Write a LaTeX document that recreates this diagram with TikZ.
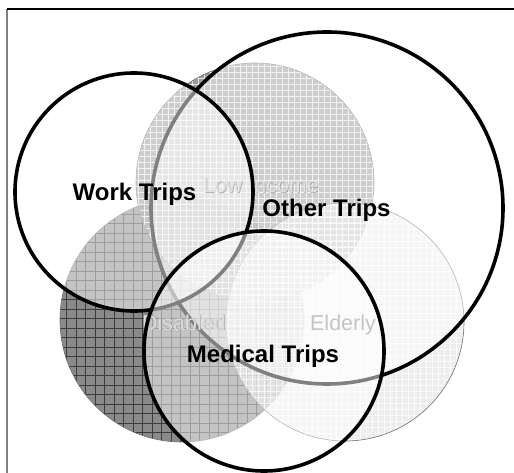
\documentclass[tikz,border=0pt]{standalone}
\usepackage{fontspec}
\setmainfont{Liberation Sans}
\definecolor{lowfill}{HTML}{8A8A8A}
\definecolor{disfill}{HTML}{8A8A8A}
\definecolor{disline}{HTML}{3C3C3C}
\definecolor{eldfill}{HTML}{E4E4E4}
\definecolor{edgegray}{HTML}{6E6E6E}
\begin{document}
\begin{tikzpicture}[x=1pt,y=-1pt,
  tripline/.style={draw=black, line width=3.6pt},
  tripfill/.style={fill=white, fill opacity=0.5},
  setedge/.style={draw=edgegray, line width=0.6pt},
  triplabel/.style={font=\fontsize{24}{28}\selectfont\bfseries, text=black, inner sep=0pt, anchor=base},
  setlabel/.style={font=\fontsize{21.5}{25}\selectfont, inner sep=0pt, anchor=base},
  framegray/.style={draw=gray, line width=1.6pt},
  frameblack/.style={draw=black, line width=1.2pt}
]
\useasboundingbox (0,0) rectangle (514,473);
\fill[white] (0,0) rectangle (514,473);

% centres
\coordinate (dis) at (182,320);
\coordinate (low) at (255,182);
\coordinate (eld) at (345,322);
\coordinate (oth) at (327,208);
\coordinate (wrk) at (134,192);
\coordinate (med) at (264,351);

% Disabled
\begin{scope}
  \clip (dis) circle (122);
  \fill[disfill] (dis) circle (122);
  \foreach \i in {0,...,29} {
    \draw[disline, line width=0.7pt] (57+\i*9.5,190) -- ++(0,270);
    \draw[disline, line width=0.7pt] (50,195+\i*9.5) -- ++(270,0);
  }
\end{scope}
\draw[setedge] (dis) circle (122);

% Low Income
\begin{scope}
  \clip (low) circle (119);
  \fill[lowfill, opacity=0.85] (low) circle (119);
  \foreach \i in {0,...,42} {
    \draw[white, line width=0.8pt, opacity=0.75] (132+\i*6,55) -- ++(0,260);
    \draw[white, line width=0.8pt, opacity=0.75] (125,60+\i*6) -- ++(260,0);
  }
\end{scope}
\draw[setedge] (low) circle (119);

% Elderly
\begin{scope}
  \clip (eld) circle (119);
  \fill[eldfill, opacity=0.65] (eld) circle (119);
  \foreach \i in {0,...,42} {
    \draw[white, line width=0.6pt, opacity=0.7] (222+\i*6,195) -- ++(0,260);
    \draw[white, line width=0.6pt, opacity=0.7] (220,199+\i*6) -- ++(260,0);
  }
\end{scope}
\draw[setedge] (eld) circle (119);

% trip fills
\fill[tripfill] (oth) circle (176);
\draw[tripline] (oth) circle (176);
\fill[tripfill] (wrk) circle (119);

% set labels (embossed look)
\node[setlabel, text=black!45, opacity=0.6] at (261.7,193.7) {Low Income};
\node[setlabel, text=black!12] (lowlab) at (261,193) {Low Income};

\draw[tripline] (wrk) circle (119);
\fill[tripfill] (med) circle (120);

\node[setlabel, text=black!45, opacity=0.6] at (184.7,330.7) {Disabled};
\node[setlabel, text=black!14] (dislab) at (184,330) {Disabled};
\node[setlabel, text=black!23] (eldlab) at (343,330) {Elderly};

\draw[tripline] (med) circle (120);

% trip labels
\node[triplabel] (wrklab) at (134.5,201) {Work Trips};
\node[triplabel] (othlab) at (326.5,217) {Other Trips};
\node[triplabel] (medlab) at (263,362) {Medical Trips};

% frame
\draw[framegray] (7,9) -- (7,473);
\draw[frameblack] (7,9) -- (514,9);
\end{tikzpicture}
\end{document}
